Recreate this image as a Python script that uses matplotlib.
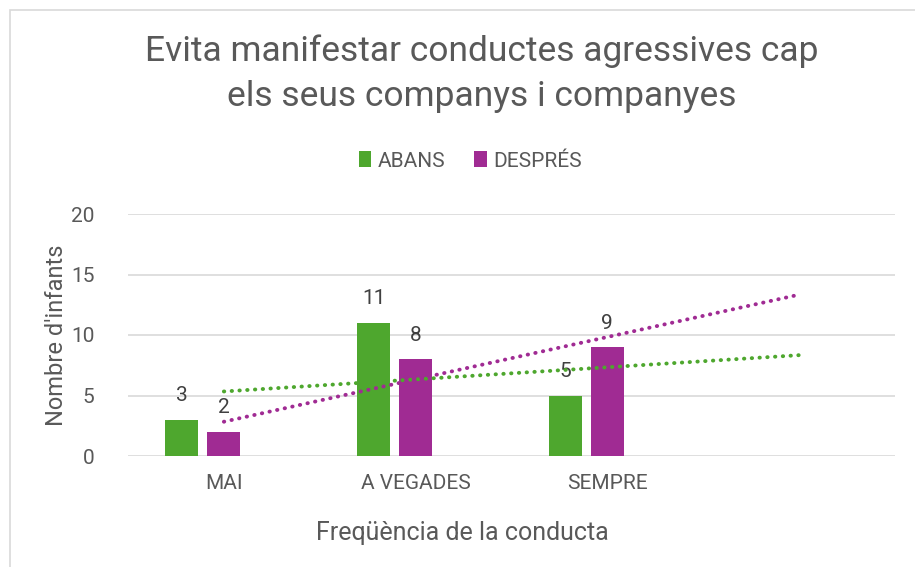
import numpy as np
import matplotlib.pyplot as plt
from matplotlib.patches import Rectangle

categories = ["MAI", "A VEGADES", "SEMPRE", ""]
abans = [3, 11, 5]
despres = [2, 8, 9]
series_names = ["ABANS", "DESPRÉS"]
title = "Evita manifestar conductes agressives cap\nels seus companys i companyes"

GREEN = "#4EA72E"
PURPLE = "#A02B93"
TEXT = "#595959"
GRID = "#D9D9D9"

plt.rcParams["font.family"] = ["Roboto", "DejaVu Sans"]

W, H = 915, 567
fig = plt.figure(figsize=(W / 100, H / 100), dpi=100)
fig.patch.set_facecolor("white")
fig.patches.append(Rectangle((10 / W, -0.1), 1.2, 1.1 - 10 / H, transform=fig.transFigure,
                             fill=False, edgecolor=GRID, linewidth=1.2, zorder=0))

# plot area in pixels
left, right, y0, y20 = 128, 895, 456, 214
ax = fig.add_axes([left / W, 1 - y0 / H, (right - left) / W, (y0 - y20) / H])

n = len(categories)
x = np.arange(1, n + 1)
bw = 33 / 192
gap = 9 / 192
off = bw + gap
xa = x[:3] - off
xd = x[:3]

ax.bar(xa, abans, width=bw, color=GREEN, zorder=3, label=series_names[0])
ax.bar(xd, despres, width=bw, color=PURPLE, zorder=3, label=series_names[1])

for xi, v in zip(xa, abans):
    ax.text(xi, v + 1.2, str(v), ha="center", va="bottom", fontsize=15, color="#404040")
for xi, v in zip(xd, despres):
    ax.text(xi, v + 1.2, str(v), ha="center", va="bottom", fontsize=15, color="#404040")

# linear trendlines (fit over the data, forecast one period forward)
xs = np.arange(1, 4)
xt = np.array([1, 4])
for vals, c in [(abans, GREEN), (despres, PURPLE)]:
    k, b = np.polyfit(xs, vals, 1)
    ax.plot(xt, k * xt + b, linestyle=(0, (0.1, 1.9)), dash_capstyle="round",
            color=c, linewidth=2.8, zorder=4)

ax.set_xlim(0.5, n + 0.5)
ax.set_ylim(0, 20)
ax.set_yticks([0, 5, 10, 15, 20])
ax.set_xticks(x)
ax.set_xticklabels(categories)
ax.yaxis.grid(True, color=GRID, linewidth=1.2, zorder=0)
ax.set_axisbelow(True)
for s in ax.spines.values():
    s.set_visible(False)
ax.tick_params(length=0, labelsize=15, colors=TEXT, pad=13)
ax.tick_params(axis="y", pad=24)

fig.text(462 / W, 1 - 533 / H, "Freqüència de la conducta", ha="center", va="center",
         fontsize=18, color=TEXT)
fig.text(57 / W, 1 - 335 / H, "Nombre d'infants", ha="center", va="center",
         rotation=90, fontsize=17, color=TEXT)
fig.text(482 / W, 1 - 74 / H, title, ha="center", va="center", fontsize=25.5,
         color=TEXT, linespacing=1.45)

leg = fig.legend(loc="center", bbox_to_anchor=(470 / W, 1 - 161 / H), ncol=2,
                 frameon=False, fontsize=15, handlelength=0.6, handleheight=0.8,
                 handletextpad=0.3, columnspacing=1.4)
for t in leg.get_texts():
    t.set_color(TEXT)

fig.savefig("out.png", dpi=100)
